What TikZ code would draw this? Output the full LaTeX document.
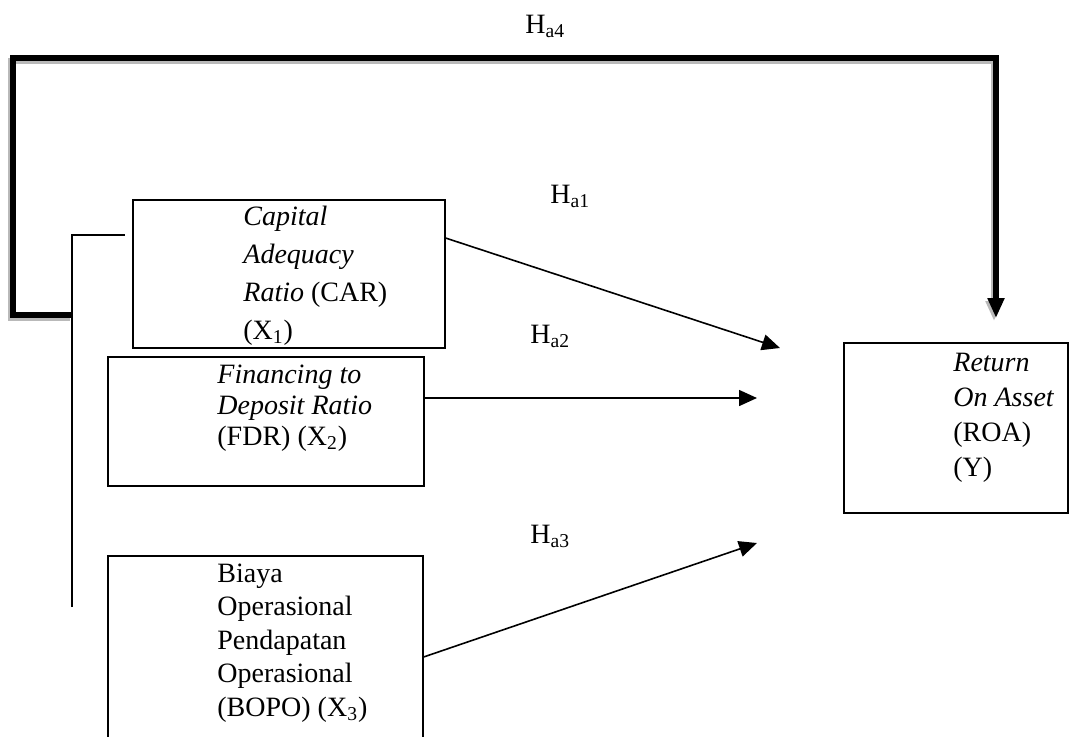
\documentclass[tikz,border=0pt]{standalone}
\usepackage{fontspec}
\setmainfont{Liberation Serif}
\usetikzlibrary{arrows.meta}
\newcommand\txtblk[2]{{\renewcommand\arraystretch{#1}\begin{tabular}[t]{@{}l@{}}#2\end{tabular}}}
\tikzset{
  box/.style={draw, line width=0.8pt, anchor=north west, inner sep=0},
  thin/.style={line width=0.75pt},
  link/.style={line width=0.8pt, -{Triangle[width=8pt,length=9pt]}},
  thick/.style={line width=2.6pt, -{Triangle[width=8pt,length=10pt]}},
  shade/.style={line width=2.6pt, gray!55, -{Triangle[width=8pt,length=10pt]}},
  lbl/.style={anchor=base west, inner sep=0, font=\fontsize{14pt}{16pt}\selectfont},
  body/.style={anchor=base west, inner sep=0, font=\fontsize{14pt}{16pt}\selectfont},
}
\begin{document}
\begin{tikzpicture}[x=0.5pt,y=-0.5pt]
\useasboundingbox (0,0) rectangle (1084,736);
\clip (0,0) rectangle (1084,736);
% boxes (sizes in pt = px/2)
\node[box, minimum width=156pt, minimum height=74pt] (car) at (132,199) {};
\node[box, minimum width=158pt, minimum height=64.5pt] (fdr) at (107,356) {};
\node[box, minimum width=157.5pt, minimum height=100pt] (bopo) at (107,555) {};
\node[box, minimum width=112pt, minimum height=85pt] (roa) at (843,342) {};
% texts (line spacing: arraystretch x 16pt)
\node[body] (carT) at (243,225) {\txtblk{1.19}{\textit{Capital}\\ \textit{Adequacy}\\ \textit{Ratio} (CAR)\\ (X\textsubscript{1})}};
\node[body] (fdrT) at (217,383) {\txtblk{0.97}{\textit{Financing to}\\ \textit{Deposit Ratio}\\ (FDR) (X\textsubscript{2})}};
\node[body] (bopoT) at (217,582) {\txtblk{1.05}{Biaya\\ Operasional\\ Pendapatan\\ Operasional\\ (BOPO) (X\textsubscript{3})}};
\node[body] (roaT) at (953,371) {\txtblk{1.1}{\textit{Return}\\ \textit{On Asset}\\ (ROA)\\ (Y)}};
% labels
\node[lbl] (h4) at (525,33) {H\textsubscript{a4}};
\node[lbl] (h1) at (550,203) {H\textsubscript{a1}};
\node[lbl] (h2) at (530,343) {H\textsubscript{a2}};
\node[lbl] (h3) at (530,543) {H\textsubscript{a3}};
% connector coordinates
\coordinate (j) at (72,315);
\coordinate (tl) at (13,315);
\coordinate (tt) at (13,58);
\coordinate (tr) at (996,58);
\coordinate (tip) at (996,318);
\coordinate (v1) at (72,235);
\coordinate (v2) at (72,607);
\coordinate (vh) at (125,235);
\coordinate (a1) at (780,348);
\coordinate (a2) at (757,398);
\coordinate (a3) at (757,543);
% thick bracket with shadow
\draw[shade] ([shift={(-2,3)}]j) -- ([shift={(-2,3)}]tl) -- ([shift={(-2,3)}]tt) -- ([shift={(-2,3)}]tr) -- ([shift={(-2,3)}]tip);
\draw[thick] (j) -- (tl) -- (tt) -- (tr) -- (tip);
% thin bracket
\draw[thin] (v2) -- (v1) -- (vh);
% arrows
\draw[link] (car.east |- 0,238) -- (a1);
\draw[link] (fdr.east |- 0,398) -- (a2);
\draw[link] (bopo.east |- 0,657) -- (a3);
\end{tikzpicture}
\end{document}
